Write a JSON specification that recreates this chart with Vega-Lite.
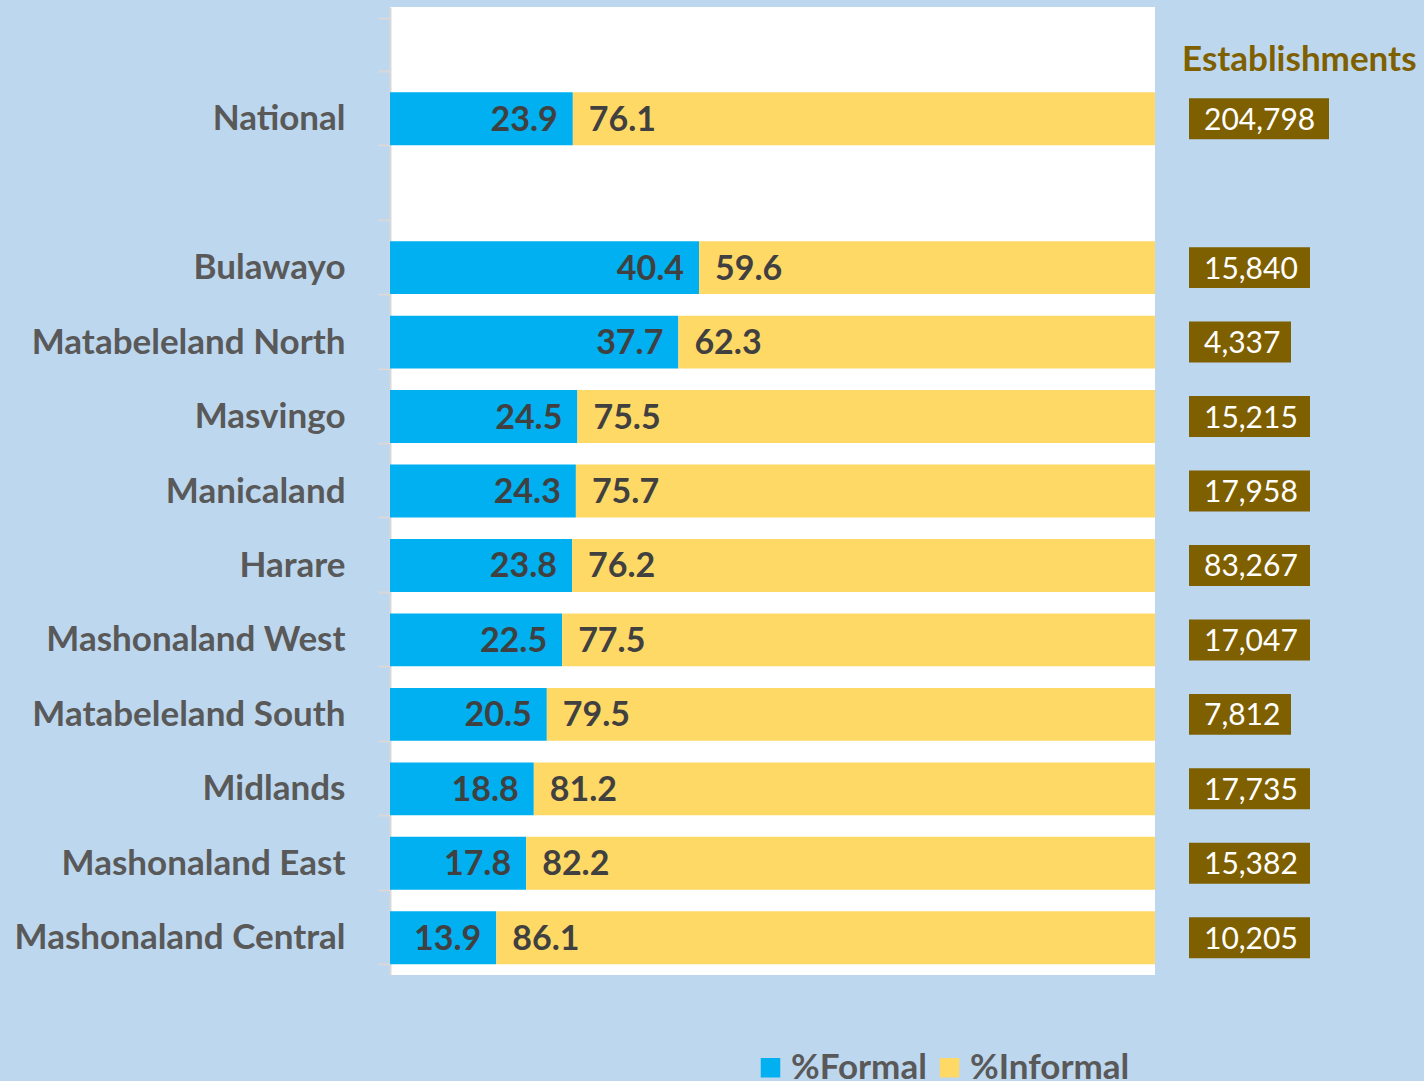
{
  "$schema": "https://vega.github.io/schema/vega-lite/v6.json",
  "background": "#BDD7EE",
  "padding": {"left": 14, "top": -10, "right": 0, "bottom": 0},
  "config": {"view": {"stroke": null}, "font": "Lato", "concat": {"spacing": 27}},
  "datasets": {
    "shares": [
      {"region": "National", "type": "%Formal", "value": 23.9},
      {"region": "National", "type": "%Informal", "value": 76.1},
      {"region": "Bulawayo", "type": "%Formal", "value": 40.4},
      {"region": "Bulawayo", "type": "%Informal", "value": 59.6},
      {"region": "Matabeleland North", "type": "%Formal", "value": 37.7},
      {"region": "Matabeleland North", "type": "%Informal", "value": 62.3},
      {"region": "Masvingo", "type": "%Formal", "value": 24.5},
      {"region": "Masvingo", "type": "%Informal", "value": 75.5},
      {"region": "Manicaland", "type": "%Formal", "value": 24.3},
      {"region": "Manicaland", "type": "%Informal", "value": 75.7},
      {"region": "Harare", "type": "%Formal", "value": 23.8},
      {"region": "Harare", "type": "%Informal", "value": 76.2},
      {"region": "Mashonaland West", "type": "%Formal", "value": 22.5},
      {"region": "Mashonaland West", "type": "%Informal", "value": 77.5},
      {"region": "Matabeleland South", "type": "%Formal", "value": 20.5},
      {"region": "Matabeleland South", "type": "%Informal", "value": 79.5},
      {"region": "Midlands", "type": "%Formal", "value": 18.8},
      {"region": "Midlands", "type": "%Informal", "value": 81.2},
      {"region": "Mashonaland East", "type": "%Formal", "value": 17.8},
      {"region": "Mashonaland East", "type": "%Informal", "value": 82.2},
      {"region": "Mashonaland Central", "type": "%Formal", "value": 13.9},
      {"region": "Mashonaland Central", "type": "%Informal", "value": 86.1}
    ],
    "est": [
      {"region": "National", "est": 204798},
      {"region": "Bulawayo", "est": 15840},
      {"region": "Matabeleland North", "est": 4337},
      {"region": "Masvingo", "est": 15215},
      {"region": "Manicaland", "est": 17958},
      {"region": "Harare", "est": 83267},
      {"region": "Mashonaland West", "est": 17047},
      {"region": "Matabeleland South", "est": 7812},
      {"region": "Midlands", "est": 17735},
      {"region": "Mashonaland East", "est": 15382},
      {"region": "Mashonaland Central", "est": 10205}
    ],
    "header": [{"region": " ", "label": "Establishments"}]
  },
  "hconcat": [
    {
      "width": 765,
      "height": 968,
      "view": {"fill": "white", "stroke": null},
      "data": {"name": "shares"},
      "transform": [
        {"stack": "value", "groupby": ["region"], "sort": [{"field": "type", "order": "ascending"}], "as": ["v0", "v1"]}
      ],
      "layer": [
        {
          "mark": {"type": "bar"},
          "encoding": {
            "y": {
              "field": "region",
              "type": "nominal",
              "scale": {
                "domain": [" ", "National", "  ", "Bulawayo", "Matabeleland North", "Masvingo", "Manicaland", "Harare", "Mashonaland West", "Matabeleland South", "Midlands", "Mashonaland East", "Mashonaland Central"],
                "paddingInner": 0.29,
                "paddingOuter": 0.145
              },
              "axis": {
                "title": null,
                "domainColor": "#D9D9D9",
                "domainWidth": 2,
                "tickColor": "#D9D9D9",
                "tickWidth": 2,
                "tickSize": 12,
                "tickBand": "extent",
                "labelFontSize": 35,
                "labelFontWeight": "bold",
                "labelColor": "#595959",
                "labelPadding": 33,
                "labelLimit": 400,
                "minExtent": 376,
                "maxExtent": 376
              }
            },
            "x": {"field": "v0", "type": "quantitative", "scale": {"domain": [0, 100], "nice": false}, "axis": null},
            "x2": {"field": "v1"},
            "color": {
              "field": "type",
              "type": "nominal",
              "scale": {"domain": ["%Formal", "%Informal"], "range": ["#00B0F0", "#FFD966"]},
              "legend": {
                "title": null,
                "orient": "none",
                "legendX": 363,
                "legendY": 1043,
                "direction": "horizontal",
                "symbolType": "square",
                "symbolSize": 380,
                "symbolStrokeWidth": 0,
                "labelFontSize": 35,
                "labelFontWeight": "bold",
                "labelColor": "#595959",
                "labelOffset": 3,
                "columnPadding": 5,
                "labelLimit": 300
              }
            }
          }
        },
        {
          "transform": [{"filter": "datum.type === '%Formal'"}],
          "mark": {"type": "text", "align": "right", "baseline": "middle", "dx": -15, "dy": 2, "fontSize": 34, "fontWeight": "bold", "color": "#404040"},
          "encoding": {
            "y": {"field": "region", "type": "nominal"},
            "x": {"field": "v1", "type": "quantitative"},
            "text": {"field": "value", "type": "quantitative", "format": ".1f"}
          }
        },
        {
          "transform": [{"filter": "datum.type === '%Informal'"}],
          "mark": {"type": "text", "align": "left", "baseline": "middle", "dx": 16, "dy": 2, "fontSize": 34, "fontWeight": "bold", "color": "#404040"},
          "encoding": {
            "y": {"field": "region", "type": "nominal"},
            "x": {"field": "v0", "type": "quantitative"},
            "text": {"field": "value", "type": "quantitative", "format": ".1f"}
          }
        }
      ]
    },
    {
      "width": 235,
      "height": 968,
      "layer": [
        {
          "data": {"name": "est"},
          "transform": [{"calculate": "length(format(datum.est, ',')) * 19 + 7", "as": "w"}],
          "mark": {"type": "bar", "color": "#7F6000"},
          "encoding": {
            "y": {
              "field": "region",
              "type": "nominal",
              "scale": {
                "domain": [" ", "National", "  ", "Bulawayo", "Matabeleland North", "Masvingo", "Manicaland", "Harare", "Mashonaland West", "Matabeleland South", "Midlands", "Mashonaland East", "Mashonaland Central"],
                "paddingInner": 0.45,
                "paddingOuter": 0.225
              },
              "axis": null
            },
            "x": {"field": "w", "type": "quantitative", "scale": {"domain": [0, 235], "nice": false}, "axis": null}
          }
        },
        {
          "data": {"name": "est"},
          "mark": {"type": "text", "align": "left", "baseline": "middle", "dx": 15, "dy": 2, "fontSize": 30, "color": "white"},
          "encoding": {
            "y": {"field": "region", "type": "nominal"},
            "x": {"datum": 0, "type": "quantitative"},
            "text": {"field": "est", "type": "quantitative", "format": ","}
          }
        },
        {
          "data": {"name": "header"},
          "mark": {"type": "text", "align": "left", "baseline": "middle", "dx": -7, "dy": 16, "fontSize": 35, "fontWeight": "bold", "color": "#7F6000"},
          "encoding": {
            "y": {"field": "region", "type": "nominal"},
            "x": {"datum": 0, "type": "quantitative"},
            "text": {"field": "label", "type": "nominal"}
          }
        }
      ]
    }
  ]
}
